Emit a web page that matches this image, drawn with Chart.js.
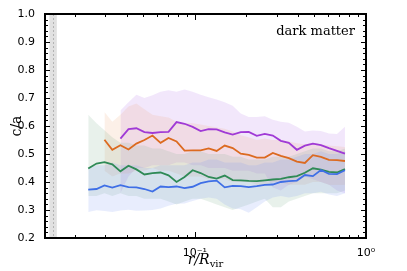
<!DOCTYPE html>
<html>
<head>
<meta charset="utf-8">
<script src="https://cdn.jsdelivr.net/npm/chart.js@4.4.1/dist/chart.umd.min.js"></script>
<style>
html, body { margin: 0; padding: 0; background: #fff; }
canvas { display: block; }
</style>
</head>
<body>
<canvas id="grafikas" width="407" height="271"></canvas>
<script>
// radial bins (r / R_vir)
const radii = [0.0238, 0.0266, 0.0296, 0.0329, 0.0367, 0.0409, 0.0455, 0.0507, 0.0565, 0.0630,
               0.0701, 0.0781, 0.0870, 0.0970, 0.1080, 0.1203, 0.1340, 0.1493, 0.1663, 0.1853,
               0.2064, 0.2299, 0.2561, 0.2853, 0.3178, 0.3540, 0.3944, 0.4393, 0.4894, 0.5452,
               0.6073, 0.6765, 0.7536];

// purple
const purpleMed = [null, null, null, null, 0.555, 0.589, 0.592, 0.578, 0.575, 0.578,
                   0.579, 0.614, 0.608, 0.597, 0.582, 0.589, 0.588, 0.577, 0.569, 0.578,
                   0.579, 0.565, 0.572, 0.566, 0.547, 0.540, 0.515, 0.530, 0.537, 0.532,
                   0.521, 0.511, 0.501];
const purpleHi = [null, null, null, null, 0.655, 0.685, 0.712, 0.700, 0.710, 0.722,
                  0.728, 0.722, 0.730, 0.722, 0.712, 0.703, 0.695, 0.685, 0.672, 0.645,
                  0.632, 0.632, 0.635, 0.622, 0.615, 0.612, 0.597, 0.580, 0.584, 0.582,
                  0.573, 0.571, 0.597];
const purpleLo = [null, null, null, null, 0.360, 0.420, 0.450, 0.450, 0.460, 0.460,
                  0.460, 0.470, 0.470, 0.460, 0.460, 0.450, 0.450, 0.450, 0.440, 0.440,
                  0.440, 0.430, 0.430, 0.380, 0.370, 0.390, 0.400, 0.420, 0.410, 0.400,
                  0.390, 0.370, 0.360];

// orange
const orangeMed = [null, null, 0.551, 0.515, 0.531, 0.516, 0.537, 0.550, 0.566, 0.540,
                   0.557, 0.545, 0.512, 0.513, 0.513, 0.520, 0.511, 0.530, 0.521, 0.501,
                   0.497, 0.487, 0.487, 0.504, 0.493, 0.485, 0.473, 0.468, 0.496, 0.490,
                   0.479, 0.478, 0.475];
const orangeHi = [null, null, 0.650, 0.615, 0.640, 0.670, 0.680, 0.660, 0.640, 0.635,
                  0.630, 0.615, 0.610, 0.610, 0.605, 0.600, 0.595, 0.590, 0.580, 0.567,
                  0.560, 0.550, 0.555, 0.550, 0.550, 0.545, 0.538, 0.535, 0.540, 0.535,
                  0.530, 0.528, 0.525];
const orangeLo = [null, null, 0.440, 0.420, 0.430, 0.430, 0.440, 0.440, 0.450, 0.440,
                  0.440, 0.430, 0.420, 0.420, 0.420, 0.410, 0.410, 0.410, 0.400, 0.400,
                  0.400, 0.390, 0.390, 0.400, 0.400, 0.390, 0.390, 0.390, 0.400, 0.400,
                  0.390, 0.390, 0.390];

// green
const greenMed = [0.448, 0.466, 0.471, 0.463, 0.438, 0.458, 0.445, 0.427, 0.432, 0.434,
                  0.424, 0.400, 0.418, 0.442, 0.432, 0.418, 0.412, 0.423, 0.407, 0.406,
                  0.404, 0.403, 0.406, 0.409, 0.411, 0.417, 0.421, 0.433, 0.449, 0.444,
                  0.436, 0.434, 0.446];
const greenHi = [0.640, 0.610, 0.585, 0.560, 0.540, 0.540, 0.530, 0.530, 0.520, 0.520,
                 0.510, 0.500, 0.500, 0.510, 0.510, 0.500, 0.500, 0.500, 0.490, 0.490,
                 0.480, 0.480, 0.480, 0.490, 0.490, 0.490, 0.500, 0.510, 0.520, 0.520,
                 0.510, 0.510, 0.520];
const greenLo = [0.350, 0.350, 0.360, 0.350, 0.360, 0.350, 0.350, 0.340, 0.340, 0.340,
                 0.330, 0.320, 0.330, 0.340, 0.340, 0.330, 0.320, 0.310, 0.300, 0.310,
                 0.320, 0.330, 0.340, 0.310, 0.310, 0.330, 0.340, 0.350, 0.360, 0.360,
                 0.360, 0.360, 0.370];

// blue
const blueMed = [0.373, 0.375, 0.388, 0.380, 0.389, 0.382, 0.381, 0.375, 0.366, 0.384,
                 0.382, 0.384, 0.378, 0.383, 0.396, 0.402, 0.405, 0.381, 0.386, 0.385,
                 0.382, 0.385, 0.390, 0.391, 0.400, 0.403, 0.405, 0.425, 0.421, 0.443,
                 0.429, 0.428, 0.442];
const blueHi = [0.450, 0.460, 0.460, 0.470, 0.460, 0.460, 0.460, 0.450, 0.450, 0.460,
                0.460, 0.460, 0.460, 0.470, 0.470, 0.480, 0.480, 0.470, 0.470, 0.470,
                0.460, 0.460, 0.470, 0.470, 0.480, 0.480, 0.490, 0.500, 0.500, 0.510,
                0.500, 0.500, 0.510];
const blueLo = [0.293, 0.299, 0.296, 0.293, 0.298, 0.301, 0.297, 0.298, 0.300, 0.305,
                0.315, 0.322, 0.323, 0.332, 0.340, 0.345, 0.340, 0.320, 0.305, 0.303,
                0.290, 0.310, 0.330, 0.345, 0.350, 0.345, 0.350, 0.360, 0.360, 0.365,
                0.355, 0.350, 0.360];

// axes
const yTicks = [0.2, 0.3, 0.4, 0.5, 0.6, 0.7, 0.8, 0.9, 1.0];
const xTicks = [0.1, 1];
const xTickLabels = ['10\u207B\u00B9', '10\u2070'];
const resolutionBand = [0.0141, 0.0156];
const resolutionLine = 0.0149;

function punktai(values) {
    let out = [];
    values.forEach((v, i) => {
        if (v !== null) out.push({x: radii[i], y: v});
    });
    return out;
}

function juosta(hi, lo, fillColor) {
    return [
        { data: punktai(hi), borderWidth: 0, borderColor: 'transparent', pointRadius: 0,
          backgroundColor: fillColor, fill: '+1', tension: 0 },
        { data: punktai(lo), borderWidth: 0, borderColor: 'transparent', pointRadius: 0,
          backgroundColor: fillColor, fill: false, tension: 0 }
    ];
}

function linija(values, color) {
    return { data: punktai(values), borderColor: color, borderWidth: 1.8, pointRadius: 0,
             fill: false, tension: 0 };
}

const remelis = {
    id: 'remelis',
    beforeDatasetsDraw(chart) {
        const {ctx, chartArea: a, scales: {x}} = chart;
        const x0 = x.getPixelForValue(resolutionBand[0]);
        const x1 = x.getPixelForValue(resolutionBand[1]);
        ctx.save();
        ctx.fillStyle = 'rgba(200,200,200,0.55)';
        ctx.fillRect(x0, a.top, x1 - x0, a.bottom - a.top);
        const xl = Math.round(x.getPixelForValue(resolutionLine)) + 0.5;
        ctx.strokeStyle = '#a8a8a8';
        ctx.lineWidth = 0.8;
        ctx.setLineDash([2, 2]);
        ctx.beginPath();
        ctx.moveTo(xl, a.top);
        ctx.lineTo(xl, a.bottom);
        ctx.stroke();
        ctx.restore();
    },
    afterDraw(chart) {
        const {ctx, chartArea: a, scales: {x, y}} = chart;
        ctx.save();
        ctx.strokeStyle = '#000';
        ctx.lineWidth = 2;
        ctx.strokeRect(a.left, a.top, a.right - a.left, a.bottom - a.top);

        ctx.lineWidth = 1;
        ctx.beginPath();
        // x ticks (bottom and top, inward)
        [0.01, 0.1, 1].forEach(d => {
            for (let k = 1; k <= 9; k++) {
                const v = d * k;
                if (v < x.min || v > x.max) continue;
                const px = Math.round(x.getPixelForValue(v)) + 0.5;
                const len = k === 1 ? 6 : 3;
                ctx.moveTo(px, a.bottom); ctx.lineTo(px, a.bottom - len);
                ctx.moveTo(px, a.top); ctx.lineTo(px, a.top + len);
            }
        });
        // y ticks (left and right, inward)
        for (let i = 0; i <= 40; i++) {
            const v = 0.2 + i * 0.02;
            const py = Math.round(y.getPixelForValue(v)) + 0.5;
            const len = i % 5 === 0 ? 5 : 3;
            ctx.moveTo(a.left, py); ctx.lineTo(a.left + len, py);
            ctx.moveTo(a.right, py); ctx.lineTo(a.right - len, py);
        }
        ctx.stroke();

        // text
        ctx.fillStyle = '#000';
        ctx.font = '13px "DejaVu Serif"';
        ctx.textAlign = 'right';
        ctx.textBaseline = 'alphabetic';
        ctx.fillText('dark matter', a.right - 11, a.top + 21);

        // x title r/R_vir
        const cx = (a.left + a.right) / 2;
        const by = 264;
        ctx.font = 'italic 14px "DejaVu Serif"';
        const t1 = 'r/R';
        const w1 = ctx.measureText(t1).width;
        ctx.font = '10px "DejaVu Serif"';
        const w2 = ctx.measureText('vir').width;
        let sx = cx - (w1 + w2) / 2;
        ctx.textAlign = 'left';
        ctx.font = 'italic 14px "DejaVu Serif"';
        ctx.fillText(t1, sx, by);
        ctx.font = '10px "DejaVu Serif"';
        ctx.fillText('vir', sx + w1, by + 3);

        // y title
        ctx.translate(21, (a.top + a.bottom) / 2);
        ctx.rotate(-Math.PI / 2);
        ctx.textAlign = 'center';
        ctx.font = '14px "DejaVu Serif"';
        ctx.fillText('c/a', 0, 0);
        ctx.restore();
    }
};

const ctx = document.getElementById('grafikas').getContext('2d');
new Chart(ctx, {
    type: 'line',
    data: {
        datasets: [
            ...juosta(blueHi, blueLo, 'rgba(110,140,240,0.16)'),
            ...juosta(greenHi, greenLo, 'rgba(110,170,130,0.16)'),
            ...juosta(orangeHi, orangeLo, 'rgba(235,150,90,0.14)'),
            ...juosta(purpleHi, purpleLo, 'rgba(185,120,235,0.18)'),
            linija(blueMed, '#3f6fe6'),
            linija(greenMed, '#2f8a56'),
            linija(orangeMed, '#dc6a20'),
            linija(purpleMed, '#a03ad6')
        ]
    },
    options: {
        responsive: false,
        animation: false,
        devicePixelRatio: 1,
        layout: { padding: { top: 14, right: 41, left: 0, bottom: 0 } },
        plugins: {
            legend: { display: false },
            tooltip: { enabled: false },
            filler: { drawTime: 'beforeDatasetsDraw' }
        },
        scales: {
            x: {
                type: 'logarithmic',
                min: 0.0133,
                max: 1,
                grid: { display: false },
                border: { display: false },
                afterBuildTicks: (scale) => {
                    scale.ticks = xTicks.map(v => ({ value: v, major: true }));
                },
                afterFit: (scale) => { scale.height = 33; },
                ticks: {
                    autoSkip: false,
                    maxRotation: 0,
                    padding: 1,
                    color: '#000',
                    font: { family: 'DejaVu Sans', size: 11 },
                    callback: (value) => xTickLabels[xTicks.indexOf(value)]
                }
            },
            y: {
                min: 0.2,
                max: 1.0,
                grid: { display: false },
                border: { display: false },
                afterBuildTicks: (scale) => {
                    scale.ticks = yTicks.map(v => ({ value: v }));
                },
                afterFit: (scale) => { scale.width = 45; },
                ticks: {
                    padding: 2,
                    color: '#000',
                    font: { family: 'DejaVu Sans', size: 11 },
                    callback: (value) => value.toFixed(1)
                }
            }
        }
    },
    plugins: [remelis]
});
</script>
</body>
</html>
